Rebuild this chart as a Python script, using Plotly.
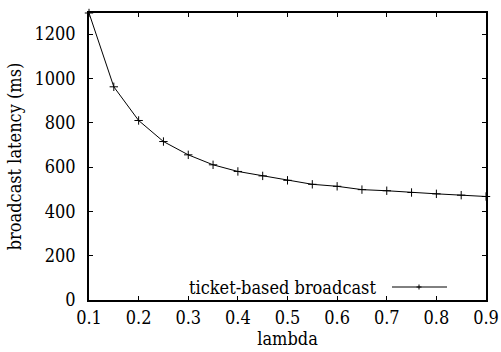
import plotly.graph_objects as go

# broadcast latency measured for each lambda setting
lambda_vals = [0.1, 0.15, 0.2, 0.25, 0.3, 0.35, 0.4, 0.45, 0.5, 0.55, 0.6,
               0.65, 0.7, 0.75, 0.8, 0.85, 0.9]
latency_ms = [1295, 962, 810, 715, 655, 610, 580, 560, 540, 522, 513,
              498, 493, 485, 479, 473, 467]
series_name = "ticket-based broadcast"
x_ticks = [0.1, 0.2, 0.3, 0.4, 0.5, 0.6, 0.7, 0.8, 0.9]
y_ticks = [0, 200, 400, 600, 800, 1000, 1200]

FONT = "DejaVu Serif Condensed"
FS = 18
W, H = 501, 352
L, R, T, B = 89, 15, 13, 52

fig = go.Figure()
fig.add_trace(go.Scatter(
    x=lambda_vals, y=latency_ms, mode="lines+markers", name=series_name,
    line=dict(color="black", width=1),
    marker=dict(symbol="cross-thin", size=6, line=dict(color="black", width=1)),
    showlegend=False, cliponaxis=False,
))

axis_common = dict(
    showline=True, linecolor="black", linewidth=1.5, mirror="allticks",
    ticks="inside", ticklen=4, tickwidth=1, tickcolor="black",
    showgrid=False, zeroline=False, automargin=False,
    tickfont=dict(family=FONT, size=FS, color="black"),
)

fig.update_layout(
    width=W, height=H,
    margin=dict(l=L, r=R, t=T, b=B, autoexpand=False),
    paper_bgcolor="white", plot_bgcolor="white",
    font=dict(family=FONT, size=FS, color="black"),
    xaxis=dict(range=[0.1, 0.9], tickvals=x_ticks,
               ticktext=[f"{v:g}" for v in x_ticks],
               ticklabelstandoff=1,
               title=dict(text="lambda", font=dict(family=FONT, size=FS), standoff=0),
               **axis_common),
    yaxis=dict(range=[0, 1295], tickvals=y_ticks,
               ticklabelstandoff=8,
               title=dict(text="broadcast latency (ms)", font=dict(family=FONT, size=FS), standoff=8),
               **axis_common),
)

# key placed inside the plot, label to the left of its line sample
plot_w = W - L - R
plot_h = H - T - B
def px_x(px):
    return (px - L) / plot_w
def px_y(py):
    return (H - B - py) / plot_h

key_y = px_y(287)
fig.add_annotation(
    x=px_x(378), y=key_y, xref="paper", yref="paper",
    text=series_name, showarrow=False, xanchor="right", yanchor="middle",
    font=dict(family=FONT, size=FS, color="black"),
)
fig.add_shape(type="line", xref="paper", yref="paper",
              x0=px_x(392), x1=px_x(447), y0=key_y, y1=key_y,
              line=dict(color="black", width=1))
fig.add_shape(type="line", xref="paper", yref="paper",
              x0=px_x(416.5), x1=px_x(421.5), y0=key_y, y1=key_y,
              line=dict(color="black", width=1))
fig.add_shape(type="line", xref="paper", yref="paper",
              x0=px_x(419), x1=px_x(419), y0=px_y(284.5), y1=px_y(289.5),
              line=dict(color="black", width=1))

fig.write_html("out.html")
